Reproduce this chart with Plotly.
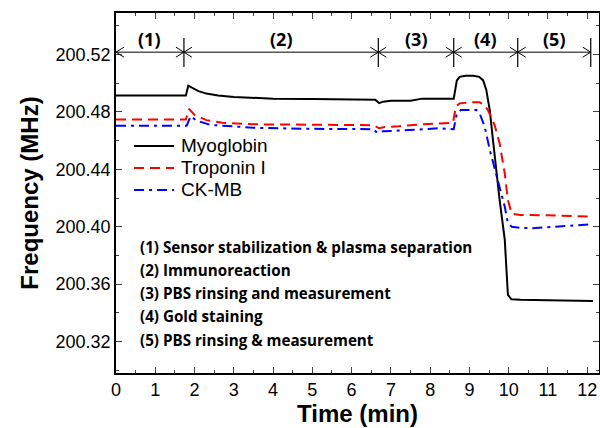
import plotly.graph_objects as go

# ---- data ----
myo_t = [0, 1.78, 1.84, 1.95, 2.1, 2.3, 2.6, 3.0, 3.5, 4.0, 5.0, 6.0, 6.6, 6.7, 6.8, 7.0, 7.5, 7.8, 8.0, 8.6,
         8.68, 8.75, 8.9, 9.1, 9.25, 9.35, 9.43, 9.52, 9.6, 9.68, 9.77, 9.9, 9.98, 10.07, 10.3, 11.0, 12.15]
myo_v = [200.4915, 200.4915, 200.4983, 200.4965, 200.4945, 200.4928, 200.4915, 200.4905, 200.4898, 200.4893,
         200.4890, 200.4888, 200.4885, 200.4862, 200.4872, 200.4878, 200.4878, 200.4893, 200.4893, 200.4893,
         200.5020, 200.5045, 200.5053, 200.5053, 200.5045, 200.5020, 200.4953, 200.4810, 200.4604, 200.4395,
         200.4186, 200.3910, 200.3524, 200.3494, 200.3490, 200.3487, 200.3482]

tni_t = [0, 1.78, 1.86, 2.0, 2.3, 2.7, 3.5, 4.75, 6.0, 6.55, 6.7, 6.85, 7.2, 7.8, 8.24, 8.58, 8.66, 8.75, 9.0,
         9.26, 9.38, 9.47, 9.64, 9.77, 9.9, 9.98, 10.08, 10.3, 11.0, 12.15]
tni_v = [200.4748, 200.4748, 200.4822, 200.4780, 200.4743, 200.4725, 200.4714, 200.4710, 200.4710, 200.4708,
         200.4686, 200.4695, 200.4700, 200.4715, 200.4720, 200.4725, 200.4840, 200.4860, 200.4867, 200.4867,
         200.4850, 200.4813, 200.4710, 200.4580, 200.4370, 200.4186, 200.4090, 200.4082, 200.4080, 200.4070]

ck_t = [0, 1.8, 1.9, 2.05, 2.4, 3.5, 4.75, 6.0, 6.55, 6.65, 6.8, 7.2, 7.8, 8.2, 8.6, 8.68, 8.78, 8.9, 9.18,
        9.26, 9.39, 9.52, 9.6, 9.72, 9.9, 9.98, 10.08, 10.3, 10.6, 11.47, 12.15]
ck_v = [200.4704, 200.4704, 200.4771, 200.4740, 200.4710, 200.4690, 200.4683, 200.4680, 200.4680, 200.4655,
        200.4665, 200.4670, 200.4680, 200.4686, 200.4680, 200.4790, 200.4813, 200.4813, 200.4813, 200.4790,
        200.4697, 200.4535, 200.4444, 200.4326, 200.4140, 200.4024, 200.4000, 200.3992, 200.3989, 200.4007,
        200.4017]

series_names = ["Myoglobin", "Troponin I", "CK-MB"]
series_colors = ["black", "#FF0000", "#0000FF"]
series_dash = ["solid", "10px,6px", "10px,5px,3px,5px"]

phase_bounds = [0, 1.73, 6.68, 8.6, 10.23, 12.09]
phase_labels = ["(1)", "(2)", "(3)", "(4)", "(5)"]
step_notes = [
    "(1) Sensor stabilization & plasma separation",
    "(2) Immunoreaction",
    "(3) PBS rinsing and measurement",
    "(4) Gold staining",
    "(5) PBS rinsing & measurement",
]
note_y = [200.3859, 200.3695, 200.3541, 200.3374, 200.3213]

arrow_y = 200.5217
bar_lo, bar_hi = 200.5113, 200.5315
label_y = 200.5310

# legend placement (data coords)
leg_x0, leg_x1, leg_tx = 0.46, 1.48, 1.60
leg_y = [200.4563, 200.4410, 200.4256]

fig = go.Figure()
for t, v, nm, c, d in zip([myo_t, tni_t, ck_t], [myo_v, tni_v, ck_v], series_names, series_colors, series_dash):
    fig.add_trace(go.Scatter(x=t, y=v, mode="lines", name=nm, showlegend=False,
                             line=dict(color=c, width=2, dash=d)))

shapes = []
for i in range(len(phase_bounds) - 1):
    a, b = phase_bounds[i], phase_bounds[i + 1]
    shapes.append(dict(type="line", xref="x", yref="y", x0=a, x1=b, y0=arrow_y, y1=arrow_y,
                       line=dict(color="black", width=1)))
    shapes.append(dict(type="path", xref="x", yref="y", xsizemode="pixel", ysizemode="pixel",
                       xanchor=a, yanchor=arrow_y, path="M 8,5 L 0,0 L 8,-5",
                       line=dict(color="black", width=1)))
    shapes.append(dict(type="path", xref="x", yref="y", xsizemode="pixel", ysizemode="pixel",
                       xanchor=b, yanchor=arrow_y, path="M -8,5 L 0,0 L -8,-5",
                       line=dict(color="black", width=1)))
for b in phase_bounds[1:]:
    shapes.append(dict(type="line", xref="x", yref="y", x0=b, x1=b, y0=bar_lo, y1=bar_hi,
                       line=dict(color="black", width=1.2)))

annotations = []
for i, lab in enumerate(phase_labels):
    mid = (phase_bounds[i] + phase_bounds[i + 1]) / 2
    annotations.append(dict(x=mid, y=label_y, xref="x", yref="y", text=lab, showarrow=False,
                            font=dict(family="Open Sans", size=18, color="black", weight="bold")))
for txt, yy in zip(step_notes, note_y):
    annotations.append(dict(x=0.56, y=yy, xref="x", yref="y", text=txt, showarrow=False,
                            xanchor="left",
                            font=dict(family="Open Sans", size=15.2, color="black", weight="bold")))

# legend drawn as line samples + labels
for nm, c, d, yy in zip(series_names, series_colors, series_dash, leg_y):
    shapes.append(dict(type="line", xref="x", yref="y", x0=leg_x0, x1=leg_x1, y0=yy, y1=yy,
                       line=dict(color=c, width=2, dash=d)))
    annotations.append(dict(x=leg_tx, y=yy, xref="x", yref="y", text=nm, showarrow=False,
                            xanchor="left",
                            font=dict(family="Liberation Sans, Arial", size=19, color="black")))

fig.update_layout(
    width=600, height=428,
    margin=dict(l=116, r=1, t=13, b=55),
    paper_bgcolor="white", plot_bgcolor="white",
    font=dict(family="Liberation Sans, Arial", color="black"),
    shapes=shapes, annotations=annotations,
    showlegend=False,
)
fig.update_xaxes(range=[0, 12.3], dtick=1, tick0=0, ticks="inside", ticklen=6, tickwidth=1,
                 showline=True, linecolor="black", linewidth=1.5, mirror="allticks",
                 showgrid=False, zeroline=False, tickfont=dict(size=18), automargin=False,
                 minor=dict(dtick=0.5, ticks="inside", ticklen=3, tickwidth=1, showgrid=False),
                 title=dict(text="<b>Time (min)</b>", font=dict(size=24), standoff=4))
fig.update_yaxes(range=[200.298, 200.549], dtick=0.04, tick0=200.32, tickformat=".2f",
                 ticks="inside", ticklen=6, tickwidth=1,
                 showline=True, linecolor="black", linewidth=1.5, mirror="allticks",
                 showgrid=False, zeroline=False, tickfont=dict(size=18), automargin=False,
                 minor=dict(dtick=0.02, ticks="inside", ticklen=3, tickwidth=1, showgrid=False),
                 title=dict(text="<b>Frequency (MHz)</b>", font=dict(size=24), standoff=10))

fig.write_html("out.html", config={"displayModeBar": False},
               post_script="document.body.style.margin='0';document.body.style.overflow='hidden';")
